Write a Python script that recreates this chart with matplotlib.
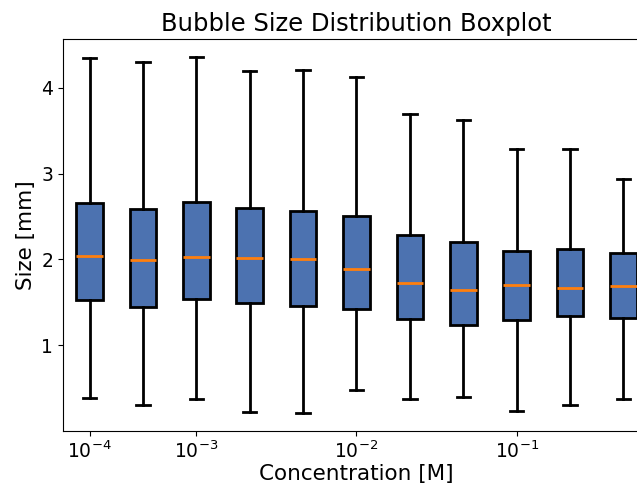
import matplotlib.pyplot as plt
import numpy as np

# concentration of each sample [M]
conc = [1e-4, 5e-4, 1e-3, 2e-3, 5e-3, 1e-2, 2e-2, 5e-2, 1e-1, 2e-1, 5e-1]
# bubble size statistics per sample [mm]
size_min = [0.39, 0.30, 0.37, 0.22, 0.21, 0.48, 0.37, 0.40, 0.24, 0.31, 0.38]
size_q1 = [1.53, 1.45, 1.54, 1.49, 1.46, 1.42, 1.31, 1.24, 1.29, 1.34, 1.32]
size_med = [2.04, 1.99, 2.03, 2.02, 2.01, 1.89, 1.73, 1.64, 1.70, 1.67, 1.69]
size_q3 = [2.66, 2.59, 2.67, 2.60, 2.56, 2.51, 2.29, 2.20, 2.10, 2.12, 2.08]
size_max = [4.35, 4.30, 4.36, 4.19, 4.21, 4.12, 3.69, 3.62, 3.29, 3.29, 2.94]

stats = []
for i in range(len(conc)):
    stats.append({"whislo": size_min[i], "q1": size_q1[i], "med": size_med[i],
                  "q3": size_q3[i], "whishi": size_max[i], "fliers": []})

fig = plt.figure(figsize=(6.37, 4.86), dpi=100)
ax = fig.add_axes([0.0989, 0.1132, 0.9215, 0.8066])

pos = np.arange(1, len(conc) + 1)
ax.bxp(stats, positions=pos, widths=0.5, patch_artist=True, showfliers=False,
       boxprops=dict(facecolor="#4C72B0", edgecolor="black", linewidth=2),
       whiskerprops=dict(color="black", linewidth=2),
       capprops=dict(color="black", linewidth=2),
       medianprops=dict(color="C1", linewidth=2))

# label only the decades
logc = np.log10(conc)
dec = [i for i in range(len(conc)) if abs(logc[i] - round(logc[i])) < 1e-9]
ax.set_xticks(pos[dec])
ax.set_xticklabels([r"$10^{%d}$" % round(logc[i]) for i in dec])
ax.set_xlim(0.5, len(conc) + 0.5)
ax.set_yticks([1, 2, 3, 4])
ax.tick_params(labelsize=13.5)

ax.set_title("Bubble Size Distribution Boxplot", fontsize=17.5)
ax.set_xlabel("Concentration [M]", fontsize=15.5, labelpad=1)
ax.set_ylabel("Size [mm]", fontsize=15.5)

plt.savefig("out.png", dpi=100)
